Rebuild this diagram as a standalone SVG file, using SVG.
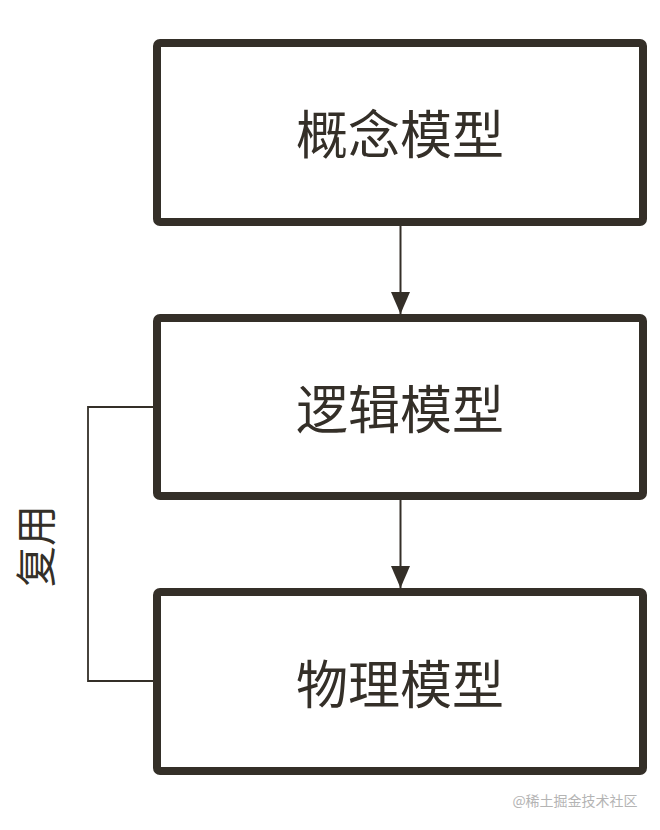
<svg xmlns="http://www.w3.org/2000/svg" width="660" height="830" viewBox="0 0 660 830">
<style>
.box{fill:#ffffff;stroke:#342f28;stroke-width:8}
.lbl{font-family:"Noto Sans CJK SC","Noto Sans",sans-serif;font-size:52px;fill:#342f28;text-anchor:middle;dominant-baseline:central}
.con{fill:none;stroke:#342f28;stroke-width:2}
.br{fill:none;stroke:#342f28;stroke-width:1.8}
</style>
<defs>
<marker id="ah" markerWidth="22" markerHeight="19" refX="22" refY="9.5" orient="auto" markerUnits="userSpaceOnUse">
<path d="M0,0 L22,9.5 L0,19 Z" fill="#342f28"/>
</marker>
</defs>
<rect width="660" height="830" fill="#ffffff"/>
<g id="connectors">
<line class="con" x1="400.5" y1="226" x2="400.5" y2="314" marker-end="url(#ah)"/>
<line class="con" x1="400.5" y1="500" x2="400.5" y2="588" marker-end="url(#ah)"/>
<polyline class="br" points="153,407 88,407 88,681 153,681"/>
<text x="33" y="546" font-family="'Noto Sans CJK SC','Noto Sans',sans-serif" font-size="41" fill="#342f28" text-anchor="middle" dominant-baseline="central" transform="rotate(-90 33 546)">复用</text>
</g>
<g id="node1">
<rect class="box" x="157" y="43" width="486" height="179" rx="3"/>
<text class="lbl" x="400" y="131">概念模型</text>
</g>
<g id="node2">
<rect class="box" x="157" y="318" width="486" height="178" rx="3"/>
<text class="lbl" x="400" y="406">逻辑模型</text>
</g>
<g id="node3">
<rect class="box" x="157" y="592" width="486" height="179" rx="3"/>
<text class="lbl" x="400" y="681">物理模型</text>
</g>
<text x="575" y="800" font-family="'Noto Sans CJK SC','Noto Sans',sans-serif" font-size="14" fill="#b4b4b4" text-anchor="middle" dominant-baseline="central">@稀土掘金技术社区</text>
</svg>
